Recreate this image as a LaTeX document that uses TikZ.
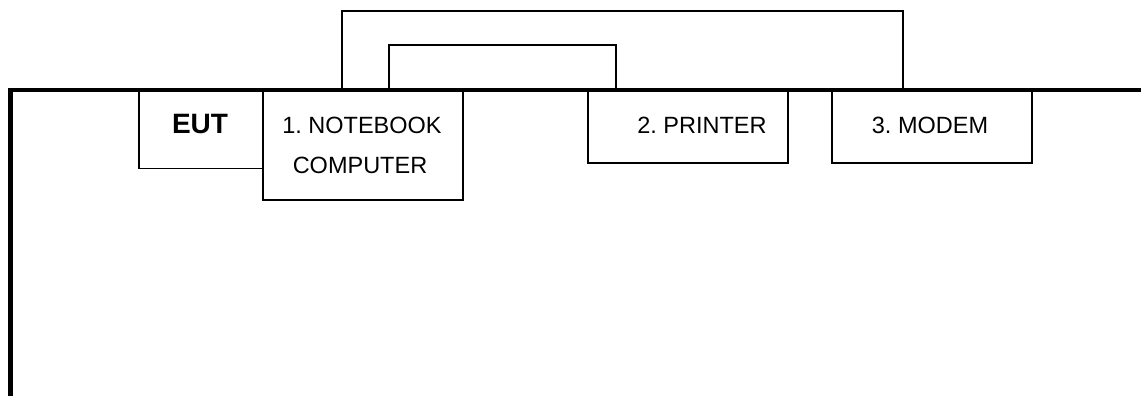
\documentclass[tikz,border=0pt]{standalone}
\usepackage{fontspec}
\setmainfont{Liberation Sans}
\usetikzlibrary{calc}
\frenchspacing
\begin{document}
\begin{tikzpicture}[x=1pt,y=-1pt,
  unit/.style={draw,line width=1.6pt,fill=white,rectangle,inner sep=0pt,anchor=north west},
  lbl/.style={anchor=base,inner sep=0pt,font=\fontsize{23.5}{40}\selectfont},
  wire/.style={line width=1.6pt},
  bus/.style={line width=4.5pt,line join=miter}]
\useasboundingbox (0,0) rectangle (1141,396);
% thick boundary line
\coordinate (tr) at (1141,90);
\coordinate (tl) at (10.5,90);
\coordinate (bl) at (10.5,396);
\draw[bus] (tr) -- (tl) -- (bl);
% boxes
\node[unit,minimum width=124pt,minimum height=77pt] (eut) at (138,90.5) {};
\node[unit,minimum width=200pt,minimum height=108.5pt] (nb) at (262,90.5) {};
\node[unit,minimum width=200pt,minimum height=71.5pt] (pr) at (587,90.5) {};
\node[unit,minimum width=200pt,minimum height=71.5pt] (md) at (831,90.5) {};
% labels
\node[lbl,font=\fontsize{28}{34}\selectfont\bfseries] (teut) at (200,133) {EUT};
\node[lbl] (tnb1) at (362,133) {1. NOTEBOOK};
\node[lbl] (tnb2) at (360,173) {COMPUTER};
\node[lbl] (tpr) at (702,133) {2. PRINTER};
\node[lbl] (tmd) at (930,133) {3. MODEM};
% cables
\draw[wire] ([xshift=80pt,yshift=0.5pt]nb.north west) |- ++(0,-79) -| ([xshift=72pt,yshift=0.5pt]md.north west);
\draw[wire] ([xshift=127pt,yshift=0.5pt]nb.north west) |- ++(0,-45) -| ([xshift=29pt,yshift=0.5pt]pr.north west);
\end{tikzpicture}
\end{document}
